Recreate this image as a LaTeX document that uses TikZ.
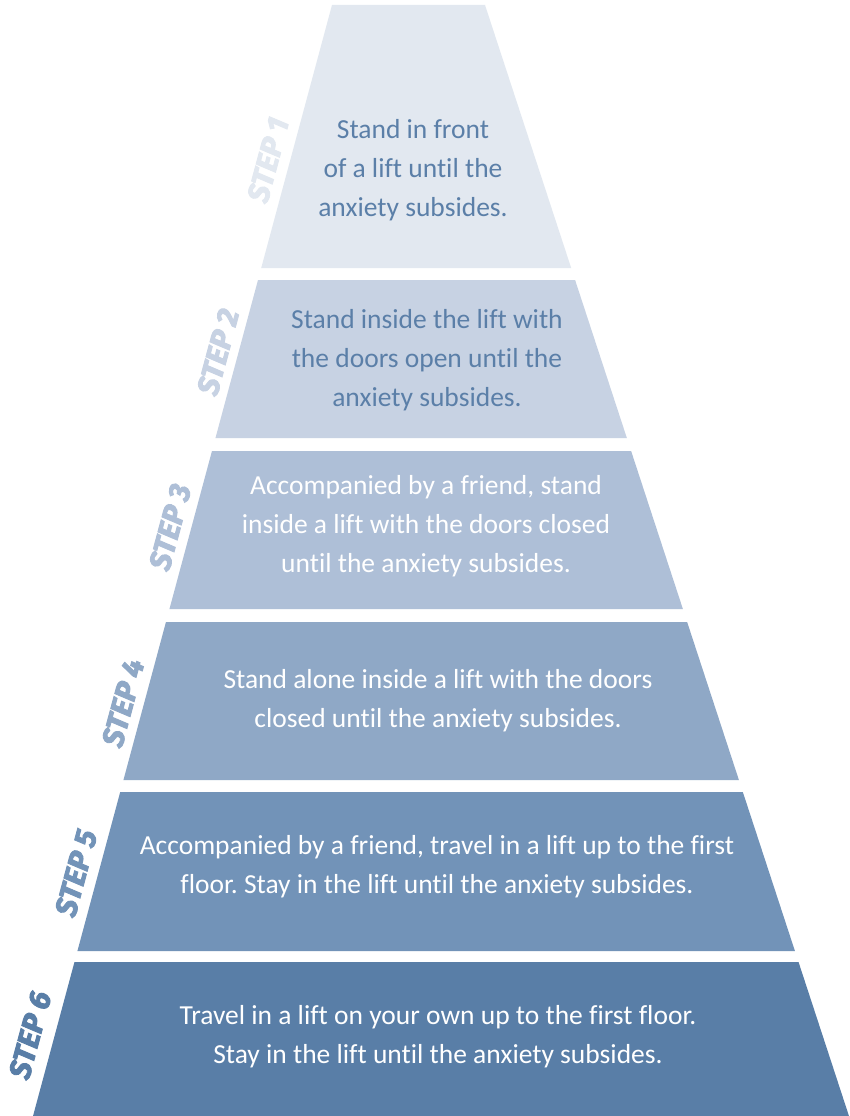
\documentclass[tikz,border=0pt]{standalone}
\usepackage{fontspec}
\setmainfont{Carlito}[Ligatures=NoCommon]
\newfontfamily\stepfont{Fira Sans}[BoldItalicFeatures={FakeBold=3}]
\definecolor{tA}{HTML}{E2E8F0}
\definecolor{tB}{HTML}{C7D2E3}
\definecolor{tC}{HTML}{AEBFD7}
\definecolor{tD}{HTML}{8FA8C6}
\definecolor{tE}{HTML}{7293B8}
\definecolor{tF}{HTML}{597EA7}
\definecolor{darktxt}{HTML}{5B7FA8}
\frenchspacing
\begin{document}
\begin{tikzpicture}[x=1pt,y=-1pt,
  desc/.style={align=center,font=\fontsize{27.5}{38.8}\selectfont,inner sep=0pt},
  steplabel/.style={rotate=75,font=\stepfont\bfseries\itshape\fontsize{30}{30}\selectfont,inner sep=0pt}]
\useasboundingbox (0,0) rectangle (849,1116);
\fill[white] (0,0) rectangle (849,1116);
% tiers: xL(y)=332-0.2691(y-5), xR(y)=485+0.3276(y-5)
\foreach \yt/\yb/\c [count=\i] in {5/268/tA,280/438/tB,451/609/tC,622/780/tD,792/951/tE,962/1116/tF}{
  \pgfmathsetmacro\lt{332-0.2691*(\yt-5)}
  \pgfmathsetmacro\lb{332-0.2691*(\yb-5)}
  \pgfmathsetmacro\rt{485+0.3276*(\yt-5)}
  \pgfmathsetmacro\rb{485+0.3276*(\yb-5)}
  \fill[\c] (\lt,\yt) -- (\rt,\yt) -- (\rb,\yb) -- (\lb,\yb) -- cycle;
}
% descriptions
\node[desc,text=darktxt] (d1) at (413,170) {Stand in front\\of a lift until the\\anxiety subsides.};
\node[desc,text=darktxt] (d2) at (427,360) {Stand inside the lift with\\the doors open until the\\anxiety subsides.};
\node[desc,text=white] (d3) at (426,526) {Accompanied by a friend, stand\\inside a lift with the doors closed\\until the anxiety subsides.};
\node[desc,text=white] (d4) at (438,701) {Stand alone inside a lift with the doors\\closed until the anxiety subsides.};
\node[desc,text=white] (d5) at (437,867) {Accompanied by a friend, travel in a lift up to the first\\floor. Stay in the lift until the anxiety subsides.};
\node[desc,text=white] (d6) at (438,1037) {Travel in a lift on your own up to the first floor.\\Stay in the lift until the anxiety subsides.};
% step labels
\node[steplabel,text=tA] (s1) at (268,160) {STEP 1};
\node[steplabel,text=tB] (s2) at (218,352) {STEP 2};
\node[steplabel,text=tC] (s3) at (170,527) {STEP 3};
\node[steplabel,text=tD] (s4) at (123,703) {STEP 4};
\node[steplabel,text=tE] (s5) at (76,873) {STEP 5};
\node[steplabel,text=tF] (s6) at (30,1035) {STEP 6};
\end{tikzpicture}
\end{document}
